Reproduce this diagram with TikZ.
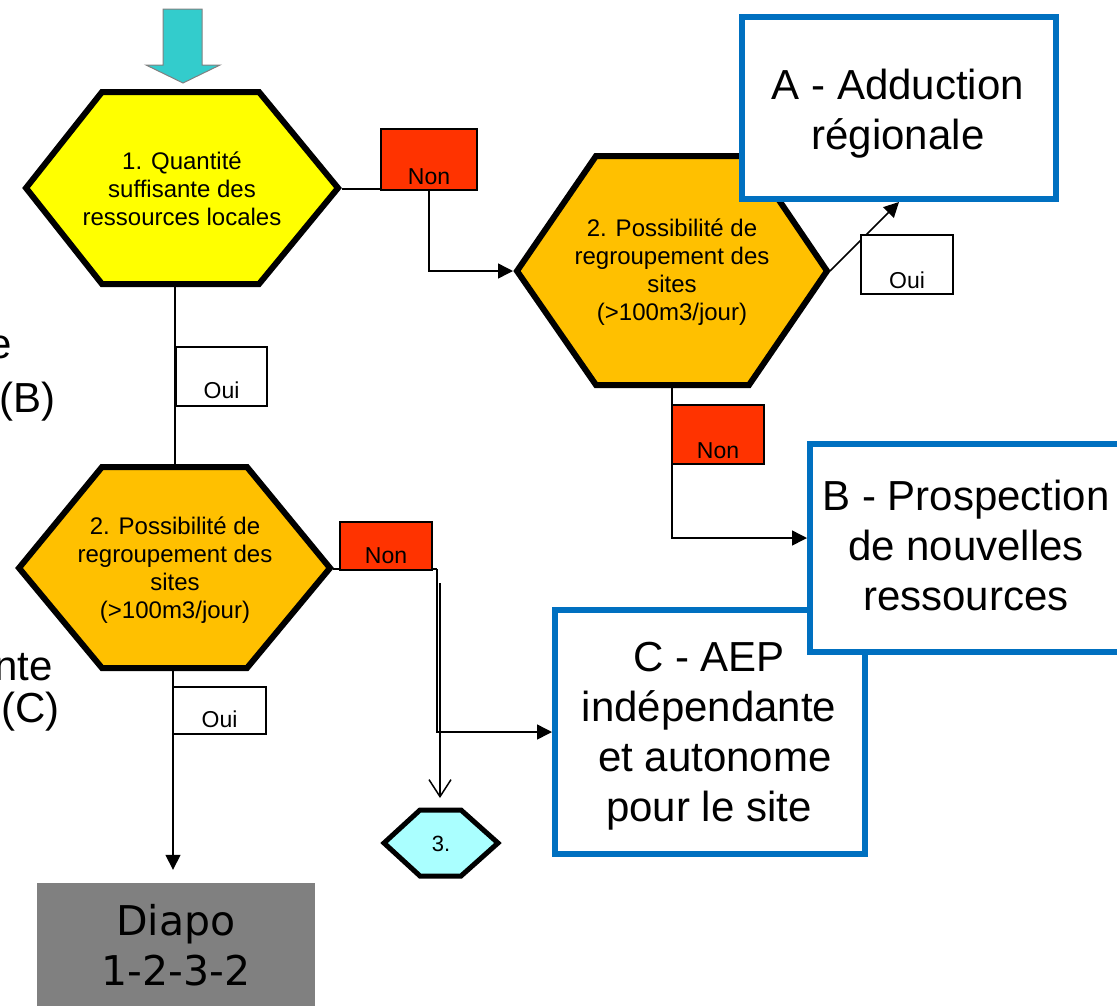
\documentclass[tikz,border=0pt]{standalone}
\usepackage{fontspec}
\setmainfont{Liberation Sans}
\newfontfamily\dejavu{DejaVu Sans}
\usetikzlibrary{arrows.meta,calc}
\definecolor{hexyellow}{HTML}{FFFF00}
\definecolor{hexorange}{HTML}{FFC000}
\definecolor{nonred}{HTML}{FF3300}
\definecolor{boxblue}{HTML}{0070C0}
\definecolor{arrowcyan}{HTML}{33CCCC}
\definecolor{paleblue}{HTML}{AAFFFF}
\definecolor{diapogray}{HTML}{808080}
\pgfdeclarelayer{bg}
\pgfsetlayers{bg,main}
\begin{document}
\begin{tikzpicture}[x=1pt,y=-1pt,
  hexline/.style={draw=black,line width=6pt,line join=miter},
  smalltxt/.style={font=\fontsize{24}{28}\selectfont,align=center,inner sep=0pt},
  bigtxt/.style={font=\fontsize{42}{50}\selectfont,align=center,inner sep=0pt},
  outcome/.style={draw=boxblue,line width=6pt,fill=white,inner sep=0pt},
  conn/.style={draw=black,line width=1.5pt},
  arr/.style={conn,-{Triangle[length=15pt,width=15pt]}},
  tag/.style={draw=black,line width=1.5pt,inner sep=0pt,outer sep=0pt,
    font=\fontsize{23}{28}\selectfont,anchor=north west},
]
\useasboundingbox (0,0) rectangle (1117,1005);
\clip (0,0) rectangle (1117,1005);

% partial texts at the left edge
\node[bigtxt,anchor=base east] (pe) at (12,358) {e};
\node[bigtxt,anchor=base east] (pb) at (56,412) {(B)};
\node[bigtxt,anchor=base east] (pnte) at (53,680) {nte};
\node[bigtxt,anchor=base east] (pc) at (60,722) {(C)};

% connection points (outer vertices of hexagons)
\coordinate (h1R) at (342,189);
\coordinate (h1B) at (175,287);
\coordinate (h2L) at (513,271);
\coordinate (h2R) at (830,271);
\coordinate (h2B) at (672,388);
\coordinate (h3T) at (175,464);
\coordinate (h3R) at (333,569);
\coordinate (h3B) at (173,671);
\coordinate (t3T) at (440,807);
\coordinate (dbl) at (440,583);
\coordinate (bendC) at (437,569);

% hexagon 1
\draw[hexline,fill=hexyellow] (26,188) -- (102,92) -- (259,92) -- (338,188) -- (259,284) -- (102,284) -- cycle;
\node[smalltxt] (q1) at (182,189) {1. Quantité\\suffisante des\\ressources locales};

% hexagon 2 (right)
\draw[hexline,fill=hexorange] (517,271) -- (596,156) -- (749,156) -- (827,271) -- (749,385) -- (596,385) -- cycle;
\node[smalltxt] (q2a) at (672,272) {2. Possibilité de\\regroupement des\\sites\\(>100m3/jour)};

% hexagon 2 (left)
\draw[hexline,fill=hexorange] (19,568) -- (102,467) -- (247,467) -- (330,568) -- (247,668) -- (102,668) -- cycle;
\node[smalltxt] (q2b) at (175,570) {2. Possibilité de\\regroupement des\\sites\\(>100m3/jour)};

% hexagon 3.
\draw[draw=black,line width=5pt,line join=miter,fill=paleblue] (384,843) -- (420,810) -- (461,810) -- (498,843) -- (461,876) -- (420,876) -- cycle;
\node[font=\fontsize{22}{26}\selectfont,inner sep=0pt] (q3) at (441,844) {3.};

% answer tags
\node[tag,fill=nonred,minimum width=96pt,text height=55pt,text depth=6pt] (non1) at (381,129) {Non};
\node[tag,fill=white,minimum width=92pt,text height=53pt,text depth=6pt] (oui1) at (861,235) {Oui};
\node[tag,fill=nonred,minimum width=92pt,text height=53pt,text depth=6pt] (non3) at (672,405) {Non};
\node[tag,fill=white,minimum width=91pt,text height=51pt,text depth=8pt] (oui2) at (176,347) {Oui};
\node[tag,fill=nonred,minimum width=92pt,text height=41pt,text depth=7pt] (non4) at (340,522) {Non};
\node[tag,fill=white,minimum width=93pt,text height=40pt,text depth=7pt] (oui3) at (173,687) {Oui};

% outcome boxes
\node[outcome,minimum width=310pt,minimum height=244pt] (C) at (710,732) {};
\node[bigtxt] (Ct) at (709,736) {C - AEP\\indépendante\\\hspace*{0.28em}et autonome\\pour le site};
\node[outcome,minimum width=320pt,minimum height=208pt] (B) at (970,548) {};
\node[bigtxt] (Bt) at (966,545) {B - Prospection\\de nouvelles\\ressources};
\node[outcome,minimum width=314pt,minimum height=182pt] (A) at (899,108) {};
\node[bigtxt] (At) at (898,114) {A - Adduction\\régionale};

% Diapo box
\node[fill=diapogray,minimum width=278pt,minimum height=125pt,inner sep=0pt,
  font=\dejavu\fontsize{41}{50}\selectfont,align=center] (diapo) at (176,945.5) {Diapo\\1-2-3-2};

% entry arrow
\draw[draw=gray,line width=1pt,fill=arrowcyan] (163,9) -- (202,9) -- (202,65) -- (220,65) -- (183,83) -- (146,65) -- (163,65) -- cycle;

% connectors
\begin{pgfonlayer}{bg}
\draw[conn] (h1R) -- (h1R -| non1.west);
\draw[arr] (non1.south) |- (h2L);
\draw[arr] (h2R) -- (A.south);
\draw[conn] (h2B) -- (non3.north west);
\draw[arr] (non3.south west) |- ([yshift=10pt]B.west);
\draw[conn] (h1B) -- (h3T);
\draw[conn] (h3R) -- (bendC);
\draw[arr] (bendC) |- (C.west);
\draw[conn,-{Straight Barb[length=17pt,width=22pt]},shorten >=9pt] (dbl) -- (t3T);
\draw[arr] (h3B) -- ($(h3B |- diapo.north)+(0,-13)$);
\end{pgfonlayer}
\end{tikzpicture}
\end{document}
